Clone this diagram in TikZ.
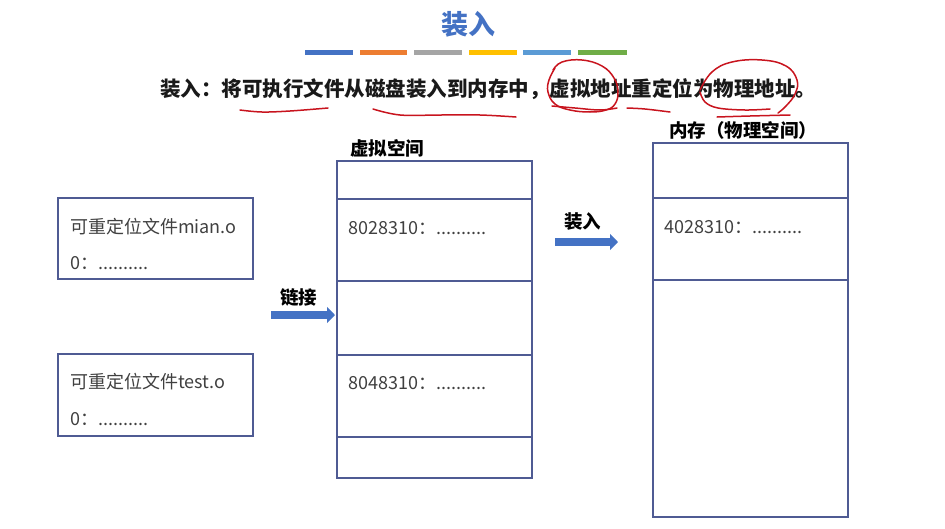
\documentclass[tikz,border=0pt]{standalone}
\usepackage{fontspec}
\setmainfont{Noto Sans CJK SC}
\usetikzlibrary{arrows.meta}
\definecolor{titleblue}{HTML}{4472C4}
\definecolor{barorange}{HTML}{ED7D31}
\definecolor{bargray}{HTML}{A5A5A5}
\definecolor{baryellow}{HTML}{FFC000}
\definecolor{barlight}{HTML}{5B9BD5}
\definecolor{bargreen}{HTML}{70AD47}
\definecolor{cellline}{HTML}{4F5B93}
\definecolor{bodytext}{HTML}{404040}
\definecolor{inkred}{HTML}{C8141E}
\tikzset{
  cell/.style={draw=cellline, line width=1.3pt, minimum width=195pt, inner sep=0pt},
  filebox/.style={draw=cellline, line width=1.3pt, minimum width=195pt, inner sep=0pt},
  body/.style={anchor=west, inner sep=0pt, text=bodytext, font=\fontsize{18}{20}\selectfont},
  label/.style={anchor=west, inner sep=0pt, text=black, font=\bfseries\fontsize{18.5}{20}\selectfont},
  bar/.style={line width=5pt},
  blockarrow/.style={draw=titleblue, line width=8pt,
    -{Triangle[length=8pt, width=16pt]}},
  ink/.style={draw=inkred, line width=1.5pt, line cap=round, line join=round}
}
\begin{document}
\begin{tikzpicture}[x=1pt, y=-1pt]
\useasboundingbox (0,0) rectangle (945,528);

% heading and coloured rule
\node[inner sep=0pt, text=titleblue, font=\bfseries\fontsize{27}{30}\selectfont] (title) at (468,24) {装入};
\draw[bar, titleblue] (305,52.5) -- (353,52.5);
\draw[bar, barorange] (360,52.5) -- (407,52.5);
\draw[bar, bargray] (414,52.5) -- (462,52.5);
\draw[bar, baryellow] (469,52.5) -- (517,52.5);
\draw[bar, barlight] (523,52.5) -- (571,52.5);
\draw[bar, bargreen] (578,52.5) -- (627,52.5);

% statement line
\node[anchor=west, inner sep=0pt, text=black!90, font=\bfseries\fontsize{20.5}{22}\selectfont] (intro) at (160,89)
  {装入：将可执行文件从磁盘装入到内存中，虚拟地址重定位为物理地址。};

% relocatable object files
\node[filebox, minimum height=81pt] (fa) at (155.5,238.5) {};
\node[body] (fa1) at (70,227) {可重定位文件mian.o};
\node[body] (fa2) at (70,263) {0：..........};
\node[filebox, minimum height=82pt] (fb) at (155.5,395) {};
\node[body] (fb1) at (70,382) {可重定位文件test.o};
\node[body] (fb2) at (70,419) {0：..........};

% virtual address space
\node[label] (vlabel) at (350,148) {虚拟空间};
\node[cell, minimum height=38pt] (v1) at (434.5,180) {};
\node[cell, minimum height=82pt] (v2) at (434.5,240) {};
\node[cell, minimum height=74pt] (v3) at (434.5,318) {};
\node[cell, minimum height=82pt] (v4) at (434.5,396) {};
\node[cell, minimum height=41pt] (v5) at (434.5,457.5) {};
\node[body] (v2t) at (348,228) {8028310：..........};
\node[body] (v4t) at (348,383) {8048310：..........};

% physical memory
\node[label] (mlabel) at (669,130) {内存（物理空间）};
\node[cell, minimum height=55pt] (m1) at (750.5,170.5) {};
\node[cell, minimum height=82pt] (m2) at (750.5,239) {};
\node[cell, minimum height=237pt] (m3) at (750.5,398.5) {};
\node[body] (m2t) at (664,227) {4028310：..........};

% linking and loading arrows
\coordinate (linkfrom) at (271,315);
\coordinate (linkto) at (335,315);
\draw[blockarrow] (linkfrom) -- (linkto);
\node[label] (linklabel) at (280,297) {链接};
\coordinate (loadfrom) at (555,242);
\coordinate (loadto) at (618,242);
\draw[blockarrow] (loadfrom) -- (loadto);
\node[label] (loadlabel) at (564,222) {装入};

% hand-drawn red marks
\draw[ink] plot[smooth, tension=0.6] coordinates {(240,110) (262,112) (290,111) (328,108)};
\draw[ink] plot[smooth, tension=0.6] coordinates {(373,109) (400,115) (440,115) (480,115) (516,117)};
\draw[ink] plot[smooth, tension=0.7] coordinates {(553,70) (562,62) (582,60) (602,66) (614,78) (618,92) (615,104) (606,110) (590,112) (570,110) (555,104) (548,92) (549,80) (555,68)};
\draw[ink] plot[smooth, tension=0.6] coordinates {(552,106) (575,108) (600,110) (617,108)};
\draw[ink] plot[smooth, tension=0.6] coordinates {(627,108) (645,109) (670,112)};
\draw[ink] plot[smooth, tension=0.7] coordinates {(700,90) (712,72) (732,62) (762,60) (786,66) (797,80) (795,94) (786,106) (778,113)};
\draw[ink] plot[smooth, tension=0.6] coordinates {(700,92) (705,102) (718,108) (745,110) (770,109)};
\draw[ink] plot[smooth, tension=0.6] coordinates {(717,117) (750,116) (790,115)};
\end{tikzpicture}
\end{document}
